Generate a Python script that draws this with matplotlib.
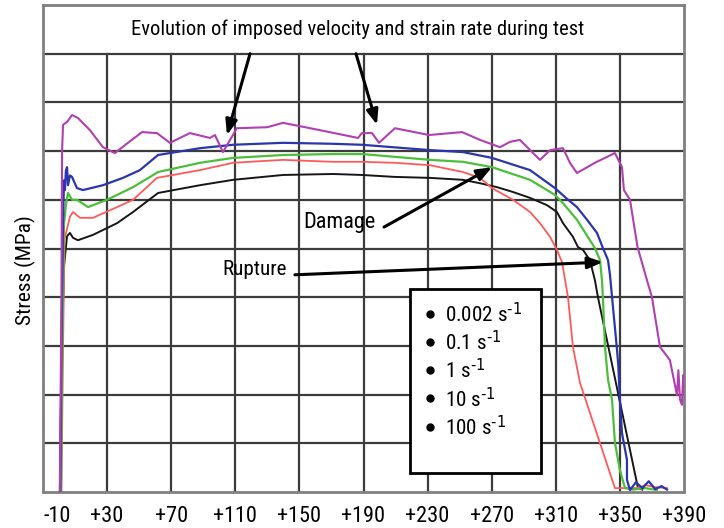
import numpy as np
import matplotlib.pyplot as plt
from matplotlib import font_manager as fm
from matplotlib.patches import Rectangle

# condensed face like the original figure, falling back if it is missing
have = {f.name for f in fm.fontManager.ttflist}
font = 'Liberation Sans'
scale = 0.86
for name, sc in [('Roboto Condensed', 1.0), ('Archivo Narrow', 1.0)]:
    if name in have:
        font, scale = name, sc
        break
plt.rcParams['font.family'] = [font, 'DejaVu Sans']
plt.rcParams['mathtext.default'] = 'regular'
fs = 16 * scale

# strain axis ticks (as printed on the figure)
xticks = [-10, 30, 70, 110, 150, 190, 230, 270, 310, 350, 390]
xlabels = ['-10', '+30', '+70', '+110', '+150', '+190', '+230', '+270', '+310', '+350', '+390']

rates = ['0.002 s$^{\\text{-1}}$', '0.1 s$^{\\text{-1}}$', '1 s$^{\\text{-1}}$',
         '10 s$^{\\text{-1}}$', '100 s$^{\\text{-1}}$']

# stress curves (y in grid units)
x_0002 = [0.5, 1.5, 3.0, 5.0, 6.8, 8.7, 11.8, 21.2, 36.2, 46.2, 61.8, 88.0, 108.6, 139.8, 171.0,
          189.0, 209.6, 231.5, 252.1, 262.7, 273.3, 283.3, 293.9, 304.5, 310.7, 314.5, 320.7,
          323.8, 327.0, 331.3, 334.4, 336.3, 361.3, 364.0]
y_0002 = [0.0, 2.5, 4.6, 5.25, 5.32, 5.22, 5.17, 5.28, 5.52, 5.75, 6.14, 6.30, 6.41, 6.51, 6.53,
          6.51, 6.47, 6.45, 6.41, 6.34, 6.26, 6.16, 6.04, 5.89, 5.75, 5.52, 5.24,
          5.03, 4.97, 4.76, 4.35, 4.0, 0.08, 0.05]

x_01 = [1.5, 2.5, 3.5, 6.8, 8.7, 13.1, 21.2, 36.2, 46.2, 61.1, 88.0, 108.6, 139.8, 171.0, 189.0,
        209.6, 231.5, 252.1, 262.7, 270.2, 283.3, 293.9, 300.1, 306.4, 310.7, 313.9, 317.6,
        320.7, 325.1, 346.9, 360.0, 366.0, 372.0, 379.4]
y_01 = [0.0, 3.0, 5.2, 5.65, 5.75, 5.63, 5.63, 5.85, 6.0, 6.45, 6.61, 6.76, 6.82, 6.78, 6.78,
        6.76, 6.71, 6.57, 6.45, 6.24, 6.0, 5.75, 5.52, 5.24, 4.97, 4.72, 4.0,
        2.98, 2.24, 0.08, 0.08, 0.14, 0.1, 0.08]

x_1 = [1.2, 2.0, 3.1, 4.3, 5.6, 8.1, 11.2, 18.1, 29.9, 46.2, 61.8, 88.0, 108.6, 139.8, 171.0,
       189.0, 231.5, 252.1, 270.2, 293.9, 309.5, 314.5, 323.2, 331.3, 334.4, 337.6, 338.8,
       339.4, 340.7, 342.6, 345.1, 346.9, 350.0, 353.2, 358.0, 366.0, 373.0]
y_1 = [0.0, 3.0, 5.5, 5.9, 6.14, 6.0, 6.0, 5.85, 6.0, 6.26, 6.57, 6.76, 6.86, 6.92, 6.94,
       6.94, 6.82, 6.78, 6.67, 6.41, 6.10, 5.93, 5.59, 5.17, 5.01, 4.76, 4.35,
       4.0, 2.98, 2.30, 1.89, 1.01, 0.45, 0.08, 0.05, 0.08, 0.04]

x_10 = [0.8, 1.5, 2.5, 3.1, 3.7, 4.3, 5.0, 5.6, 6.8, 8.1, 11.2, 15.0, 27.4, 39.9, 50.5, 61.8,
        88.0, 108.6, 139.8, 171.0, 189.0, 231.5, 252.1, 270.2, 293.9, 309.5, 317.0, 323.2,
        329.5, 335.7, 339.4, 342.6, 343.8, 345.1, 348.2, 349.0, 350.0, 351.3, 354.4, 354.4,
        356.3, 360.0, 364.0, 368.0, 372.0, 376.0, 379.4]
y_10 = [0.0, 3.0, 5.5, 6.4, 6.2, 6.6, 6.67, 6.3, 6.5, 6.47, 6.24, 6.20, 6.30, 6.45, 6.61, 6.92,
        7.06, 7.13, 7.17, 7.15, 7.13, 7.02, 6.98, 6.86, 6.61, 6.24, 6.02, 5.85,
        5.59, 5.32, 5.01, 4.76, 4.46, 4.0, 2.92, 2.6, 1.89, 1.21, 0.66, 0.25,
        0.04, 0.2, 0.08, 0.22, 0.06, 0.12, 0.05]

x_100 = [0.5, 1.5, 1.9, 2.5, 5.0, 8.1, 11.8, 19.3, 27.4, 34.9, 43.0, 51.8, 61.1, 69.2, 81.7,
         94.2, 97.3, 102.3, 111.0, 129.8, 139.8, 162.8, 186.6, 189.0, 195.3, 199.7, 209.6,
         230.9, 251.5, 262.7, 275.2, 281.4, 287.6, 300.1, 306.4, 314.5, 318.8, 323.2, 334.4,
         346.9, 351.3, 352.5, 356.3, 361.0, 366.9, 370.0, 375.0, 381.2, 383.1, 385.6, 386.5,
         387.5, 388.7, 389.5, 390.0]
y_100 = [0.0, 4.0, 7.0, 7.54, 7.6, 7.74, 7.68, 7.43, 7.08, 6.96, 7.17, 7.39, 7.37, 7.17, 7.37,
         7.27, 7.33, 6.98, 7.47, 7.49, 7.58, 7.43, 7.27, 7.37, 7.37, 7.17, 7.47,
         7.33, 7.39, 7.23, 7.08, 7.19, 7.23, 6.82, 7.02, 7.06, 6.76, 6.55, 6.76,
         6.96, 6.67, 6.2, 6.0, 5.03, 4.35, 4.0, 2.98, 2.71, 2.40, 1.99, 2.5,
         1.9, 1.79, 2.4, 2.0]

fig = plt.figure(figsize=(7.24, 5.28), dpi=100)
ax = fig.add_axes([43/724, 36/528, 641/724, 487/528])
ax.set_xlim(-10, 390)
ax.set_ylim(0, 10)

# grid (top row is the title box, no vertical lines there)
for xv in xticks[1:-1]:
    ax.plot([xv, xv], [0, 9], color='#3c3c3c', lw=1.6, zorder=1)
for yv in range(1, 10):
    ax.axhline(yv, color='#3c3c3c', lw=1.6, zorder=1)
for s in ax.spines.values():
    s.set_color('#808080')
    s.set_linewidth(2)

ax.set_yticks([])
ax.set_xticks(xticks)
ax.set_xticklabels(xlabels)
ax.tick_params(axis='x', length=0, pad=10, labelsize=fs)
ax.get_xticklabels()[0].set_horizontalalignment('left')

ax.text(186.6, 9.5, 'Evolution of imposed velocity and strain rate during test',
        ha='center', va='center', fontsize=fs * 0.92)

ax.plot(x_0002, y_0002, color='#161616', lw=1.4, zorder=3)
ax.plot(x_01, y_01, color='#ff5a5a', lw=1.3, zorder=3)
ax.plot(x_1, y_1, color='#4cbf3a', lw=1.6, zorder=3)
ax.plot(x_10, y_10, color='#2b35ad', lw=1.6, zorder=3)
ax.plot(x_100, y_100, color='#b23fb0', lw=1.5, zorder=3)

arrow = dict(arrowstyle='-|>,head_width=0.35,head_length=0.9', color='black', lw=2.2,
             shrinkA=0, shrinkB=0)
ax.annotate('', xy=(104.8, 7.33), xytext=(119.2, 9.0), arrowprops=arrow, zorder=4)
ax.annotate('', xy=(198.4, 7.54), xytext=(185.3, 9.0), arrowprops=arrow, zorder=4)
ax.annotate('', xy=(270.2, 6.67), xytext=(202.8, 5.44), arrowprops=arrow, zorder=4)
ax.annotate('', xy=(339.4, 4.72), xytext=(147.2, 4.46), arrowprops=arrow, zorder=4)
ax.text(197.2, 5.54, 'Damage', ha='right', va='center', fontsize=fs)
ax.text(142.3, 4.56, 'Rupture', ha='right', va='center', fontsize=fs * 0.95)

# legend box
ax.add_patch(Rectangle((219, 0.39), 81.5, 3.78, facecolor='white', edgecolor='black',
                       lw=2, zorder=5))
for i, lab in enumerate(rates):
    yy = 3.66 - i * 0.58
    ax.plot(231.5, yy, 'o', color='black', ms=5, zorder=6)
    ax.text(240.8, yy, lab, ha='left', va='center', fontsize=fs * 0.95, zorder=6)

fig.text(25/724, 1 - 270/528, 'Stress (MPa)', rotation=90, ha='center', va='center',
         fontsize=fs * 0.96)

fig.savefig('out.png', dpi=100)
